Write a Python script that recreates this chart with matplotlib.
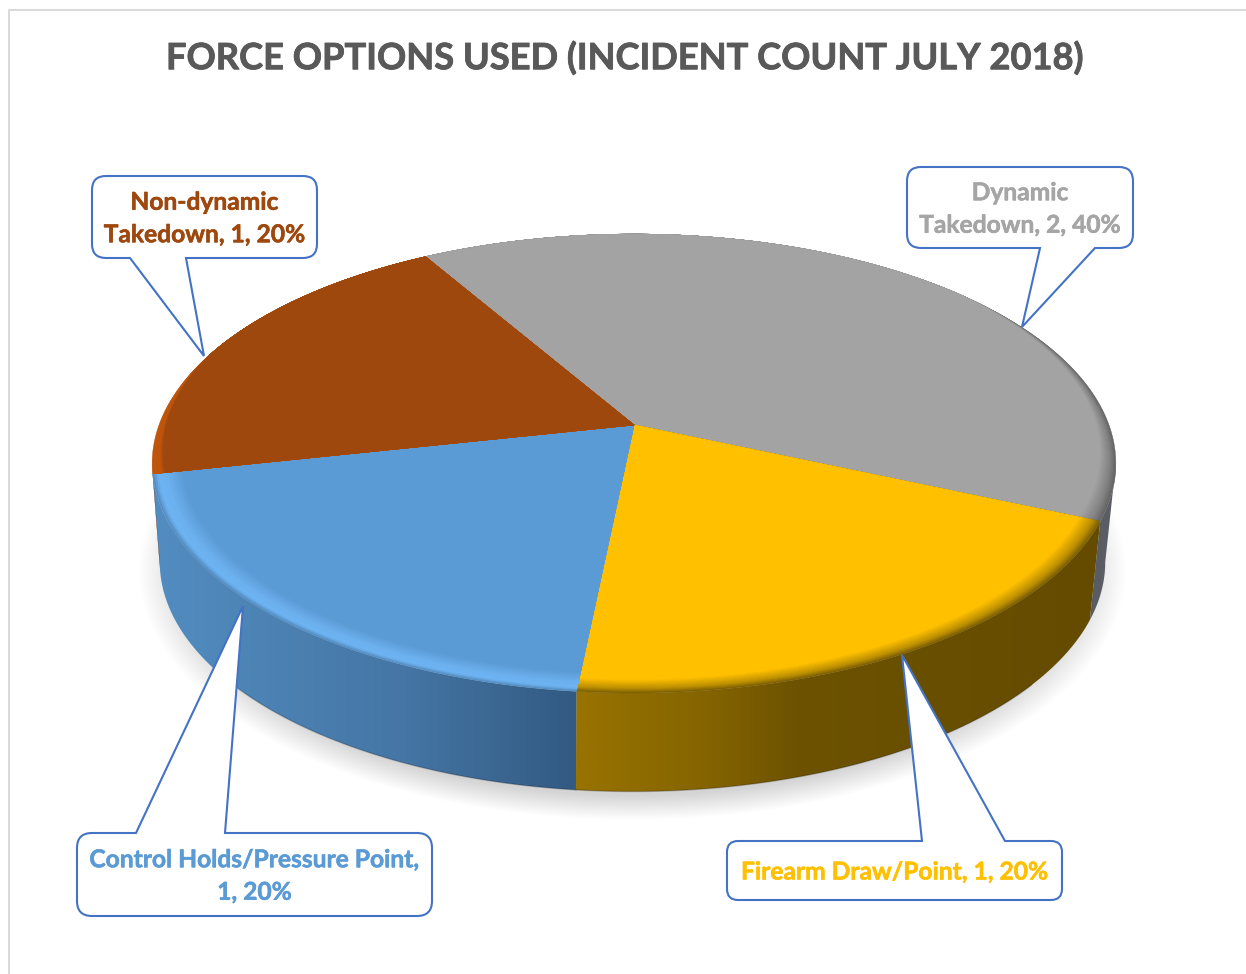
import numpy as np
import matplotlib
matplotlib.use('Agg')
import matplotlib.pyplot as plt
import matplotlib.patheffects as pe
from matplotlib.patches import Polygon, PathPatch
from matplotlib.path import Path

title = 'FORCE OPTIONS USED (INCIDENT COUNT JULY 2018)'

# slices, clockwise from the top
names = ['Dynamic Takedown', 'Firearm Draw/Point', 'Control Holds/Pressure Point', 'Non-dynamic Takedown']
counts = [2, 1, 1, 1]
percents = [40, 20, 20, 20]
label_text = ['Dynamic\nTakedown, 2, 40%', 'Firearm Draw/Point, 1, 20%',
              'Control Holds/Pressure Point,\n1, 20%', 'Non-dynamic\nTakedown, 1, 20%']
label_colors = ['#A5A5A5', '#FFC000', '#5B9BD5', '#9E480E']

# callouts: left, top, right, bottom, pointer base x1, x2, tip x, tip y, corner radius
callouts = [
    (907, 167, 1133, 248, 1040, 1095, 1022, 327, 14),
    (727, 841, 1062, 900, 922, 1005, 902, 655, 11),
    (77, 833, 432, 916, 136, 225, 243, 606, 15),
    (92, 176, 317, 258, 130, 186, 204, 356, 14),
]

# perspective of the pie, in pixels
cx, cy = 634.0, 425.0
R, S, k = 475.0, 223.0, 0.168
R_bottom, cy_bottom = 466.0, 523.5
start_angle = 120.2
vis_lo, vis_hi = -170.3, -9.7


def project(theta, r=1.0, bottom=False):
    t = np.radians(theta)
    u, v = r * np.cos(t), r * np.sin(t)
    w = 1 + k * v
    if bottom:
        return cx - 1.5 + R_bottom * u / w, cy_bottom - S * v / w
    return cx + R * u / w, cy - S * v / w


def rgb(c):
    return np.array(c, dtype=float) / 255


def wall(ax, a0, a1, stops, z):
    # side of the pie between two angles, filled with a left to right gradient
    th = np.linspace(a0, a1, 80)
    xt, yt = project(th)
    xb, yb = project(th[::-1], bottom=True)
    pts = np.column_stack([np.r_[xt, xb], np.r_[yt, yb]])
    poly = Polygon(pts, closed=True, fc='none', ec='none', transform=ax.transData)
    ax.add_patch(poly)
    xs = np.arange(int(pts[:, 0].min()) - 2, int(pts[:, 0].max()) + 3)
    sx = [s[0] for s in stops]
    grad = np.stack([np.interp(xs, sx, [s[1][i] for s in stops]) for i in range(3)], axis=-1) / 255
    im = ax.imshow(grad[None, :, :], extent=(xs[0], xs[-1], pts[:, 1].max() + 2, pts[:, 1].min() - 2),
                   aspect='auto', zorder=z, interpolation='bilinear')
    im.set_clip_path(poly)
    # darker line along the front of the bottom edge only
    keep = (th[::-1] > -140) & (th[::-1] < -40)
    if keep.any():
        ax.plot(xb[keep], yb[keep], color='black', alpha=0.22, lw=1.0, zorder=z + 0.1)


def top_face(ax, a0, a1, stops, z, fade=None):
    # slice of the top, painted from the rim inwards so the bevel looks soft
    th = np.linspace(a0, a1, 160)
    f = np.ones_like(th)
    if fade is not None:
        f = np.interp(th, sorted(fade), [1.0, 0.0] if fade[0] < fade[1] else [0.0, 1.0])
    rs = [s[0] for s in stops]
    for i, q in enumerate(np.linspace(1.0, rs[-1], 16)):
        col = [np.interp(-q, [-r for r in rs], [s[1][j] for s in stops]) for j in range(3)]
        rr = 1 - (1 - q) * f
        x, y = project(th, rr)
        pts = np.column_stack([np.r_[cx, x], np.r_[cy, y]])
        ax.add_patch(Polygon(pts, closed=True, fc=rgb(col), ec=rgb(col), lw=0.3, zorder=z + i * 0.01))


def callout_path(left, top, right, bottom, b1, b2, tx, ty, rad):
    verts, codes = [], []
    def mv(*p):
        verts.append(p); codes.append(Path.MOVETO)
    def ln(*p):
        verts.append(p); codes.append(Path.LINETO)
    def cv(c, p):
        verts.extend([c, p]); codes.extend([Path.CURVE3, Path.CURVE3])
    mv(left + rad, top)
    if ty < top:
        ln(b1, top); ln(tx, ty); ln(b2, top)
    ln(right - rad, top)
    cv((right, top), (right, top + rad))
    ln(right, bottom - rad)
    cv((right, bottom), (right - rad, bottom))
    if ty > bottom:
        ln(b2, bottom); ln(tx, ty); ln(b1, bottom)
    ln(left + rad, bottom)
    cv((left, bottom), (left, bottom - rad))
    ln(left, top + rad)
    cv((left, top), (left + rad, top))
    verts.append((left + rad, top)); codes.append(Path.CLOSEPOLY)
    return Path(verts, codes)


plt.rcParams['font.family'] = ['Lato', 'DejaVu Sans']
fig = plt.figure(figsize=(12.46, 9.74), dpi=100)
ax = fig.add_axes([0, 0, 1, 1])

# page frame
ax.plot([1246, 9, 9], [9.5, 9.5, 974], color='#D9D9D9', lw=1.4, zorder=1)

# soft shadow under the pie
gx, gy = np.meshgrid(np.arange(120, 1140), np.arange(480, 830))
d = np.sqrt(((gx - 632) / 495.0) ** 2 + ((gy - 570) / 250.0) ** 2)
alpha = np.clip((1.0 - d) / 0.1, 0, 1) * 0.17
shadow = np.zeros(gx.shape + (4,))
shadow[..., 3] = alpha
ax.imshow(shadow, extent=(120, 1140, 830, 480), aspect='auto', zorder=2)

# slice boundaries come from the counts
edges = start_angle - np.r_[0, np.cumsum(counts)] / np.sum(counts) * 360.0

wall_stops = [
    [(1050, (84, 88, 94)), (1120, (92, 96, 102))],
    [(577, (152, 115, 0)), (700, (134, 101, 0)), (800, (108, 82, 0)), (1100, (100, 75, 0))],
    [(160, (82, 140, 192)), (250, (77, 132, 182)), (400, (69, 118, 165)), (577, (50, 90, 130))],
    [(150, (110, 50, 10)), (170, (110, 50, 10))],
]
rim_stops = [
    [(1.0, (100, 100, 100)), (0.985, (130, 130, 130)), (0.958, (163, 163, 163))],
    [(1.0, (125, 95, 0)), (0.985, (190, 145, 0)), (0.958, (255, 192, 0))],
    [(1.0, (85, 142, 194)), (0.99, (110, 180, 242)), (0.972, (108, 176, 238)), (0.94, (91, 155, 213))],
    [(1.0, (192, 86, 12)), (0.982, (190, 85, 12)), (0.974, (158, 72, 14))],
]
fades = [(-23.8, 40.0), None, None, (-167.8, -200.0)]

# back slices first so the front ones overlap them
for i in [3, 0, 1, 2]:
    a1, a0 = edges[i], edges[i + 1]
    lo, hi = max(a0, vis_lo), min(a1, vis_hi)
    if hi > lo:
        wall(ax, lo, hi, wall_stops[i], 3 + i * 0.2)
for i in [3, 0, 1, 2]:
    top_face(ax, edges[i + 1], edges[i], rim_stops[i], 5 + i, fades[i])

# callouts
for i, c in enumerate(callouts):
    left, top, right, bottom = c[:4]
    ax.add_patch(PathPatch(callout_path(*c), fc='white', ec='#4472C4', lw=1.5, zorder=12, joinstyle='miter'))
    t = ax.text((left + right) / 2, (top + bottom) / 2 + 1.5, label_text[i], color=label_colors[i], fontsize=17.7,
                fontweight='bold', ha='center', va='center', linespacing=1.5, zorder=13)
    t.set_path_effects([pe.withStroke(linewidth=0.4, foreground=label_colors[i])])

t = ax.text(624, 58, title, color='#595959', fontsize=26.1, fontweight='bold', ha='center', va='center', zorder=13)
t.set_path_effects([pe.withStroke(linewidth=0.6, foreground='#595959')])

ax.set_xlim(0, 1246)
ax.set_ylim(974, 0)
ax.axis('off')
fig.savefig('out.png', dpi=100, facecolor='white')
